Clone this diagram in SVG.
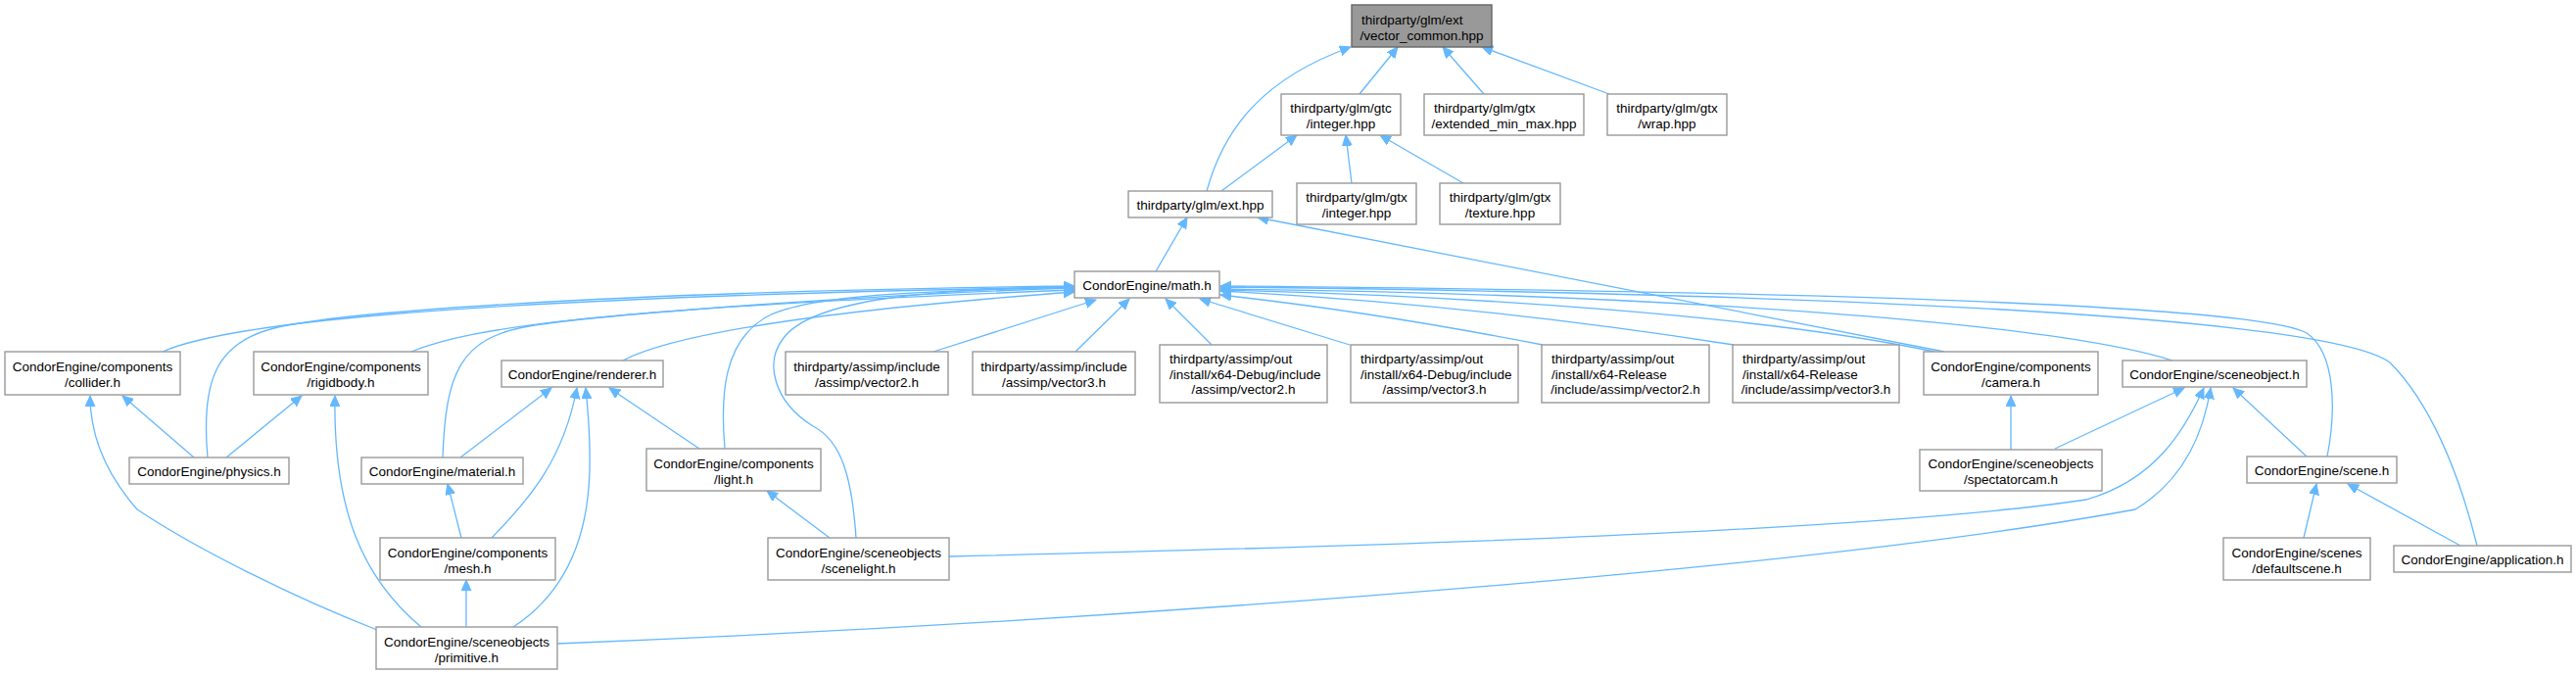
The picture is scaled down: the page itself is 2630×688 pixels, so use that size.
<svg xmlns="http://www.w3.org/2000/svg" width="2630" height="688" viewBox="0 0 2630 688">
<style>
.n rect{fill:#ffffff;stroke:#999999;stroke-width:1.4}
.root rect{fill:#999999;stroke:#666666;stroke-width:1.4}
text{font-family:"Liberation Sans",Arial,sans-serif;font-size:13.5px;fill:#000000}
.m{text-anchor:middle}
.s{text-anchor:start}
#edges path{fill:none;stroke:#63b8ff;stroke-width:1.3;marker-end:url(#arr)}
</style>
<defs>
<marker id="arr" markerUnits="userSpaceOnUse" markerWidth="12" markerHeight="11" refX="11" refY="5" orient="auto">
<path d="M0,0 L11,5 L0,10 z" fill="#63b8ff" stroke="#63b8ff" stroke-width="1"/>
</marker>
</defs>
<rect width="2630" height="688" fill="#ffffff"/>
<g id="edges">
<path d="M1388,96 L1427,48"/>
<path d="M1515,96 L1473,48"/>
<path d="M1643,96 L1513,48"/>
<path d="M1232,195 C1250,130 1290,80 1379,48"/>
<path d="M1247,195 L1324,138"/>
<path d="M1380,187 L1374,138"/>
<path d="M1494,187 L1409,138"/>
<path d="M1180,277 L1212,222"/>
<path d="M1985,359 L1284,222"/>
<path d="M166,359 C220,335 400,305 1097,293"/>
<path d="M212,467 C205,390 220,350 280,335 S600,298 1097,292"/>
<path d="M420,359 C480,335 600,315 1097,296"/>
<path d="M452,467 C455,380 470,345 540,333 S900,300 1097,294"/>
<path d="M636,368 C680,345 800,320 1097,298"/>
<path d="M740,458 C735,400 740,350 780,325 S950,297 1097,293"/>
<path d="M874,549 C870,490 860,450 830,435 C790,410 780,370 800,345 C830,305 950,295 1097,293"/>
<path d="M953,359 L1119,306"/>
<path d="M1098,359 L1153,305"/>
<path d="M1237,352 L1190,305"/>
<path d="M1378,352 L1225,305"/>
<path d="M1575,352 Q1400,318 1246,301"/>
<path d="M1770,352 Q1500,310 1246,297"/>
<path d="M1975,359 C1800,322 1500,302 1246,296"/>
<path d="M2218,368 C2100,330 1700,300 1246,295"/>
<path d="M2376,466 C2385,420 2385,360 2355,340 C2300,310 1800,297 1246,292"/>
<path d="M2529,557 C2510,480 2480,410 2440,370 C2380,325 1900,300 1246,293"/>
<path d="M198,467 L125,404"/>
<path d="M231,467 L308,404"/>
<path d="M385,643 C300,610 200,560 140,520 C105,480 92,440 92,404"/>
<path d="M430,640 C370,590 340,520 342,404"/>
<path d="M470,467 L563,396"/>
<path d="M502,549 C540,510 575,470 589,396"/>
<path d="M524,640 C570,610 600,560 602,480 C603,440 600,420 598,396"/>
<path d="M714,458 L622,396"/>
<path d="M471,549 L457,494"/>
<path d="M476,640 L476,592"/>
<path d="M847,549 L783,501"/>
<path d="M2053,459 L2053,404"/>
<path d="M2098,458 L2230,396"/>
<path d="M969,568 C1300,560 1900,545 2130,510 C2200,490 2230,440 2250,396"/>
<path d="M569,657 C1000,640 1800,590 2180,520 C2230,490 2250,440 2257,396"/>
<path d="M2355,466 L2280,396"/>
<path d="M2352,549 L2365,494"/>
<path d="M2512,557 L2397,494"/>
</g>
<g id="vc" class="root"><rect x="1380" y="5" width="143" height="43"/><text class="s" x="1390" y="24.5">thirdparty/glm/ext</text><text class="m" x="1451.5" y="40.5">/vector_common.hpp</text></g>
<g id="gtci" class="n"><rect x="1308" y="96" width="122" height="42"/><text class="m" x="1369" y="115">thirdparty/glm/gtc</text><text class="m" x="1369" y="131">/integer.hpp</text></g>
<g id="emm" class="n"><rect x="1454" y="96" width="163" height="42"/><text class="s" x="1464" y="115">thirdparty/glm/gtx</text><text class="m" x="1535.5" y="131">/extended_min_max.hpp</text></g>
<g id="wrap" class="n"><rect x="1641" y="96" width="122" height="42"/><text class="m" x="1702" y="115">thirdparty/glm/gtx</text><text class="m" x="1702" y="131">/wrap.hpp</text></g>
<g id="ext" class="n"><rect x="1152" y="195" width="147" height="27"/><text class="m" x="1225.5" y="213.5">thirdparty/glm/ext.hpp</text></g>
<g id="gtxi" class="n"><rect x="1324" y="187" width="122" height="42"/><text class="m" x="1385" y="206">thirdparty/glm/gtx</text><text class="m" x="1385" y="222">/integer.hpp</text></g>
<g id="gtxt" class="n"><rect x="1470" y="187" width="123" height="42"/><text class="m" x="1531.5" y="206">thirdparty/glm/gtx</text><text class="m" x="1531.5" y="222">/texture.hpp</text></g>
<g id="math" class="n"><rect x="1097" y="277" width="148" height="27"/><text class="m" x="1171" y="295.5">CondorEngine/math.h</text></g>
<g id="av2" class="n"><rect x="802" y="359" width="166" height="44"/><text class="m" x="885" y="379">thirdparty/assimp/include</text><text class="m" x="885" y="395">/assimp/vector2.h</text></g>
<g id="av3" class="n"><rect x="993" y="359" width="166" height="44"/><text class="m" x="1076" y="379">thirdparty/assimp/include</text><text class="m" x="1076" y="395">/assimp/vector3.h</text></g>
<g id="dv2" class="n"><rect x="1184" y="352" width="171" height="59"/><text class="s" x="1194" y="371">thirdparty/assimp/out</text><text class="s" x="1194" y="387">/install/x64-Debug/include</text><text class="m" x="1269.5" y="402">/assimp/vector2.h</text></g>
<g id="dv3" class="n"><rect x="1379" y="352" width="171" height="59"/><text class="s" x="1389" y="371">thirdparty/assimp/out</text><text class="s" x="1389" y="387">/install/x64-Debug/include</text><text class="m" x="1464.5" y="402">/assimp/vector3.h</text></g>
<g id="rv2" class="n"><rect x="1574" y="352" width="171" height="59"/><text class="s" x="1584" y="371">thirdparty/assimp/out</text><text class="s" x="1584" y="387">/install/x64-Release</text><text class="m" x="1659.5" y="402">/include/assimp/vector2.h</text></g>
<g id="rv3" class="n"><rect x="1769" y="352" width="170" height="59"/><text class="s" x="1779" y="371">thirdparty/assimp/out</text><text class="s" x="1779" y="387">/install/x64-Release</text><text class="m" x="1854" y="402">/include/assimp/vector3.h</text></g>
<g id="cam" class="n"><rect x="1964" y="359" width="178" height="44"/><text class="m" x="2053" y="379">CondorEngine/components</text><text class="m" x="2053" y="395">/camera.h</text></g>
<g id="so" class="n"><rect x="2167" y="368" width="188" height="27"/><text class="m" x="2261" y="386.5">CondorEngine/sceneobject.h</text></g>
<g id="col" class="n"><rect x="5" y="359" width="179" height="44"/><text class="m" x="94.5" y="379">CondorEngine/components</text><text class="m" x="94.5" y="395">/collider.h</text></g>
<g id="rb" class="n"><rect x="259" y="359" width="178" height="44"/><text class="m" x="348" y="379">CondorEngine/components</text><text class="m" x="348" y="395">/rigidbody.h</text></g>
<g id="ren" class="n"><rect x="512" y="368" width="165" height="27"/><text class="m" x="594.5" y="386.5">CondorEngine/renderer.h</text></g>
<g id="phy" class="n"><rect x="132" y="467" width="163" height="27"/><text class="m" x="213.5" y="485.5">CondorEngine/physics.h</text></g>
<g id="mat" class="n"><rect x="369" y="467" width="165" height="27"/><text class="m" x="451.5" y="485.5">CondorEngine/material.h</text></g>
<g id="light" class="n"><rect x="660" y="458" width="178" height="43"/><text class="m" x="749" y="477.5">CondorEngine/components</text><text class="m" x="749" y="493.5">/light.h</text></g>
<g id="mesh" class="n"><rect x="388" y="549" width="179" height="43"/><text class="m" x="477.5" y="568.5">CondorEngine/components</text><text class="m" x="477.5" y="584.5">/mesh.h</text></g>
<g id="prim" class="n"><rect x="384" y="640" width="185" height="43"/><text class="m" x="476.5" y="659.5">CondorEngine/sceneobjects</text><text class="m" x="476.5" y="675.5">/primitive.h</text></g>
<g id="sl" class="n"><rect x="784" y="549" width="185" height="43"/><text class="m" x="876.5" y="568.5">CondorEngine/sceneobjects</text><text class="m" x="876.5" y="584.5">/scenelight.h</text></g>
<g id="sc" class="n"><rect x="1960" y="459" width="186" height="42"/><text class="m" x="2053" y="478">CondorEngine/sceneobjects</text><text class="m" x="2053" y="494">/spectatorcam.h</text></g>
<g id="scene" class="n"><rect x="2294" y="466" width="153" height="27"/><text class="m" x="2370.5" y="484.5">CondorEngine/scene.h</text></g>
<g id="ds" class="n"><rect x="2270" y="549" width="150" height="43"/><text class="m" x="2345" y="568.5">CondorEngine/scenes</text><text class="m" x="2345" y="584.5">/defaultscene.h</text></g>
<g id="app" class="n"><rect x="2444" y="557" width="181" height="27"/><text class="m" x="2534.5" y="575.5">CondorEngine/application.h</text></g>
</svg>
